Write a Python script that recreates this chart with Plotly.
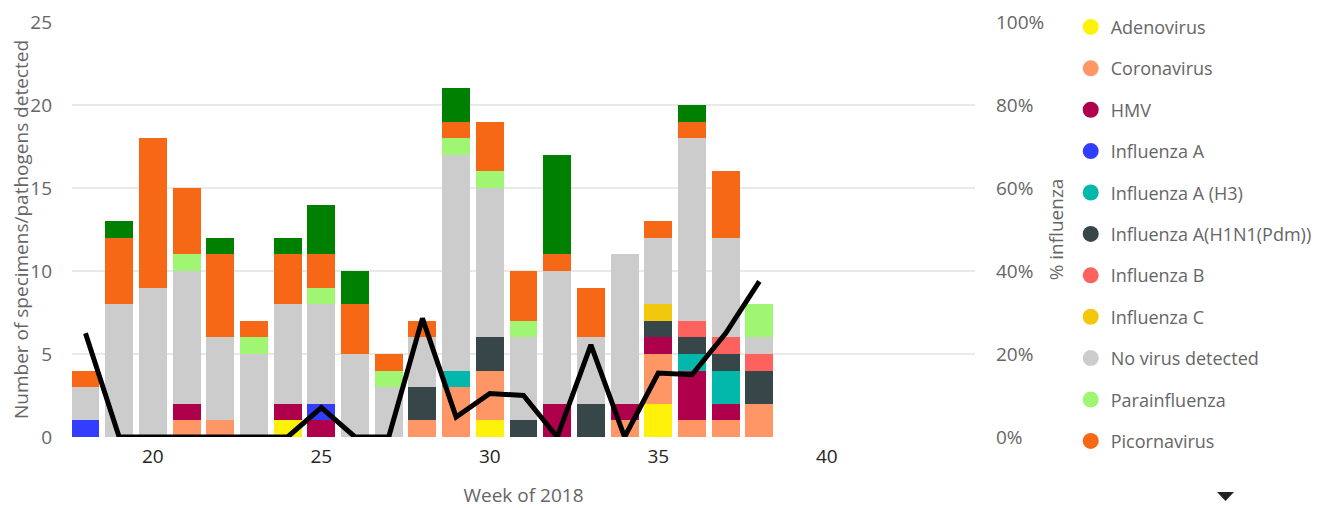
import plotly.graph_objects as go

weeks = list(range(18, 39))
adenovirus = [0,0,0,0,0,0,1,0,0,0,0,0,1,0,0,0,0,2,0,0,0]
coronavirus = [0,0,0,1,1,0,0,0,0,0,1,3,3,0,0,0,1,3,1,1,2]
hmv = [0,0,0,1,0,0,1,1,0,0,0,0,0,0,2,0,1,1,3,1,0]
influenza_a = [1,0,0,0,0,0,0,1,0,0,0,0,0,0,0,0,0,0,0,0,0]
influenza_h3 = [0,0,0,0,0,0,0,0,0,0,0,1,0,0,0,0,0,0,1,2,0]
influenza_h1n1 = [0,0,0,0,0,0,0,0,0,0,2,0,2,1,0,2,0,1,1,1,2]
influenza_b = [0,0,0,0,0,0,0,0,0,0,0,0,0,0,0,0,0,0,1,1,1]
influenza_c = [0,0,0,0,0,0,0,0,0,0,0,0,0,0,0,0,0,1,0,0,0]
no_virus = [2,8,9,8,5,5,6,6,5,3,3,13,9,5,8,4,9,4,11,6,1]
parainfluenza = [0,0,0,1,0,1,0,1,0,1,0,1,1,1,0,0,0,0,0,0,2]
picornavirus = [1,4,9,4,5,1,3,2,3,1,1,1,3,3,1,3,0,1,1,4,0]
rsv = [0,1,0,0,1,0,1,3,2,0,0,2,0,0,6,0,0,0,1,0,0]
pct_influenza = [25,0,0,0,0,0,0,7.1,0,0,28.6,4.8,10.5,10,0,22.2,0,15.4,15,25,37.5]

series = [
    ("Adenovirus", adenovirus, "#FFF20A", True),
    ("Coronavirus", coronavirus, "#FE9666", True),
    ("HMV", hmv, "#AE004B", True),
    ("Influenza A", influenza_a, "#333DFF", True),
    ("Influenza A (H3)", influenza_h3, "#01B8AA", True),
    ("Influenza A(H1N1(Pdm))", influenza_h1n1, "#374649", True),
    ("Influenza B", influenza_b, "#FD625E", True),
    ("Influenza C", influenza_c, "#F2C80F", True),
    ("No virus detected", no_virus, "#CCCCCC", True),
    ("Parainfluenza", parainfluenza, "#A0F573", True),
    ("Picornavirus", picornavirus, "#F76816", True),
    ("RSV", rsv, "#008000", False),
]

FONT = "Open Sans"
GRAY = "#666666"
FS = 19

fig = go.Figure()
for name, vals, color, show in series:
    fig.add_trace(go.Bar(x=weeks, y=vals, name=name, marker_color=color,
                         marker_line_width=0, showlegend=False, legendgroup=name))
    if show:
        fig.add_trace(go.Scatter(x=[None], y=[None], mode="markers", name=name,
                                 legendgroup=name,
                                 marker=dict(symbol="circle", size=17, color=color)))

fig.add_trace(go.Scatter(x=weeks, y=[p / 100 for p in pct_influenza], yaxis="y2",
                         mode="lines", line=dict(color="black", width=5),
                         name="% influenza", showlegend=False))

fig.update_layout(
    barmode="stack",
    bargap=0.17,
    width=1314, height=500,
    margin=dict(l=64, r=347, t=14, b=71, autoexpand=False),
    paper_bgcolor="white", plot_bgcolor="white",
    font=dict(family=FONT, size=FS, color=GRAY),
    xaxis=dict(range=[17.6, 44.4], tickvals=[20, 25, 30, 35, 40], showgrid=False,
               zeroline=False, tickfont=dict(color="#252423", size=FS), automargin=False,
               ticklabelstandoff=6,
               title=dict(text="Week of 2018", font=dict(color=GRAY, size=FS), standoff=20)),
    yaxis=dict(range=[0, 25], dtick=5, showgrid=True, gridcolor="#E9E9E9", gridwidth=2,
               zeroline=False, tickfont=dict(color=GRAY, size=FS), ticklabelstandoff=19,
               automargin=False,
               title=dict(text="Number of specimens/pathogens detected",
                          font=dict(color=GRAY, size=FS), standoff=10)),
    yaxis2=dict(range=[0, 1], dtick=0.2, tickformat=".0%", overlaying="y", side="right",
                showgrid=False, zeroline=False, tickfont=dict(color=GRAY, size=FS),
                ticklabelstandoff=20, automargin=False,
                title=dict(text="% influenza", font=dict(color=GRAY, size=FS), standoff=6)),
    legend=dict(x=1.106, xanchor="left", y=1.032, yanchor="top", tracegroupgap=15,
                maxheight=700,
                font=dict(color=GRAY, size=18), itemsizing="trace", bgcolor="rgba(0,0,0,0)"),
)

# legend scroll indicator (paper coordinates relative to plot area)
x0 = (1217 - 72) / 903
x1 = (1234 - 72) / 903
xm = (x0 + x1) / 2
y0 = (437 - 492) / 415
y1 = (437 - 501) / 415
fig.add_shape(type="path", xref="paper", yref="paper",
              path=f"M {x0},{y0} L {x1},{y0} L {xm},{y1} Z",
              fillcolor="#252423", line=dict(width=0))

fig.write_html("out.html")
